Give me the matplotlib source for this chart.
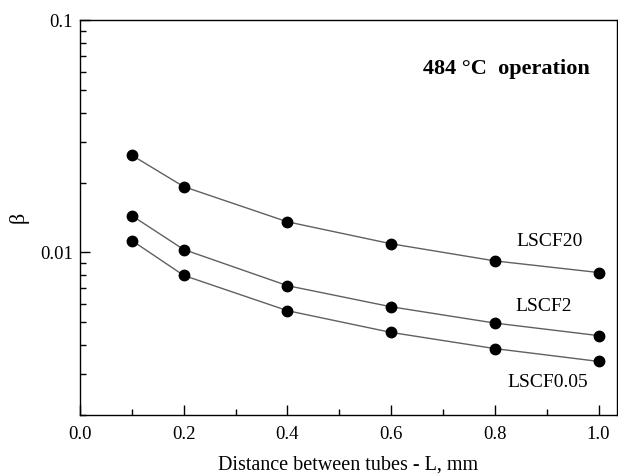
import matplotlib
matplotlib.use("Agg")
import matplotlib.pyplot as plt
from matplotlib.ticker import FixedLocator, LogLocator, NullFormatter, FixedFormatter, MultipleLocator

plt.rcParams['font.family'] = ['Liberation Serif', 'DejaVu Serif']

# Data
distance = [0.1, 0.2, 0.4, 0.6, 0.8, 1.0]
lscf20 = [0.0262, 0.0192, 0.01355, 0.0109, 0.0092, 0.0082]
lscf2 = [0.0144, 0.0103, 0.0072, 0.00584, 0.00497, 0.00439]
lscf005 = [0.01126, 0.00797, 0.00562, 0.00453, 0.00386, 0.0034]
series_names = ["LSCF20", "LSCF2", "LSCF0.05"]

fig = plt.figure(figsize=(6.18, 4.74), dpi=100)
ax = fig.add_axes([0.1294, 0.1245, 0.8686, 0.8333])

for vals in (lscf20, lscf2, lscf005):
    ax.plot(distance, vals, color='#606060', linewidth=1.0, marker='o',
            markersize=7.5, markerfacecolor='black', markeredgecolor='black')

ax.set_yscale('log')
ax.set_ylim(0.002, 0.1)
ax.set_xlim(0.0, 1.035)

# ticks
ax.xaxis.set_major_locator(MultipleLocator(0.2))
ax.xaxis.set_minor_locator(MultipleLocator(0.1))
ax.xaxis.set_major_formatter(plt.FuncFormatter(lambda v, p: f"{v:.1f}"))
ax.yaxis.set_major_locator(FixedLocator([0.01, 0.1]))
ax.yaxis.set_major_formatter(FixedFormatter(["0.01", "0.1"]))
ax.yaxis.set_minor_locator(LogLocator(base=10, subs=range(2, 10)))
ax.yaxis.set_minor_formatter(NullFormatter())
ax.tick_params(which='both', direction='in', top=False, right=False, labelsize=13.5)
ax.tick_params(axis='x', pad=8)
ax.tick_params(axis='y', pad=5)
ax.tick_params(which='major', length=7, width=1)
ax.tick_params(which='minor', length=4, width=1)
for s in ax.spines.values():
    s.set_linewidth(1.0)

ax.set_xlabel("Distance between tubes - L, mm", fontsize=14.5, labelpad=9)
ax.set_ylabel("β", fontsize=16, labelpad=8)

# series labels
ax.text(0.905, 0.0112, series_names[0], fontsize=14, ha='center', va='center')
ax.text(0.895, 0.00588, series_names[1], fontsize=14, ha='center', va='center')
ax.text(0.902, 0.00275, series_names[2], fontsize=14, ha='center', va='center')

ax.text(0.662, 0.0615, "484 °C  operation", fontsize=16, fontweight='bold',
        ha='left', va='center')

fig.savefig("out.png", dpi=100)
